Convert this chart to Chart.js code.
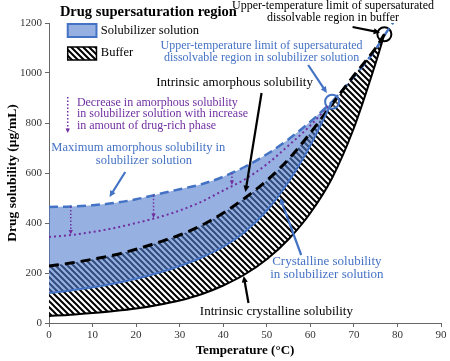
<!DOCTYPE html>
<html lang="en">
<head>
<meta charset="UTF-8">
<title>Drug supersaturation region</title>
<script src="https://cdn.jsdelivr.net/npm/chart.js"></script>
<style>
  html, body { margin: 0; padding: 0; background: #fff; }
  #wrap { width: 450px; height: 361px; }
</style>
</head>
<body>
<div id="wrap"><canvas id="chart" width="450" height="361"></canvas></div>
<script>
// temperatures (°C)
const tempsSolub = [0, 5, 10, 15, 20, 25, 30, 35, 40, 45, 50, 55, 60, 65];
const tempsBuffer = [0, 5, 10, 15, 20, 25, 30, 35, 40, 45, 50, 55, 60, 65, 70, 75, 77];
const tempsExtension = [65, 70, 75, 77, 79.5];

// solubility (µg/mL)
const maxAmorphSolub = [464, 466, 471, 480, 495, 515, 535, 555, 585, 625, 675, 735, 805, 885];
const reducedAmorphSolub = [344, 352, 364, 380, 400, 422, 450, 485, 530, 575, 635, 710, 790, 885];
const crystSolub = [120, 130, 143, 158, 177, 200, 228, 262, 305, 365, 450, 565, 710, 885];
const intrinsicAmorph = [228, 240, 255, 272, 295, 322, 352, 390, 440, 500, 570, 655, 760, 875, 990, 1100, 1155];
const intrinsicCryst = [28, 33, 40, 48, 58, 72, 90, 115, 150, 195, 255, 335, 440, 580, 780, 1040, 1155];
const extensionAmorph = [885, 985, 1095, 1150, 1215];

// upper-temperature limits
const limitTemps = [65, 77];
const limitValues = [885, 1155];

// purple "decrease" arrows
const dropTemps = [5, 24, 42];
const dropFrom = [466, 511, 600];
const dropTo = [354, 420, 552];

const xTicks = [0, 10, 20, 30, 40, 50, 60, 70, 80, 90];
const yTicks = [0, 200, 400, 600, 800, 1000, 1200];

const serif = '"Liberation Serif", "Times New Roman", serif';
const BLUE = '#4472c4';
const PURPLE = '#7030a0';
const BLUE_FILL = 'rgba(80,125,205,0.6)';

function pts(xs, ys) {
    return xs.map((t, i) => ({ x: t, y: ys[i] }));
}

function makeHatch() {
    const s = 6;
    const c = document.createElement('canvas');
    c.width = s; c.height = s;
    const g = c.getContext('2d');
    g.fillStyle = '#fff';
    g.fillRect(0, 0, s, s);
    g.strokeStyle = '#000';
    g.lineWidth = 2;
    g.beginPath();
    g.moveTo(-1, -1); g.lineTo(s + 1, s + 1);
    g.moveTo(-1, s - 1); g.lineTo(1, s + 1);
    g.moveTo(s - 1, -1); g.lineTo(s + 1, 1);
    g.stroke();
    return g.createPattern(c, 'repeat');
}
const hatch = makeHatch();

// text labels: [text, temp, value, colour, size, align, bold]
const labels = [
    ['Drug supersaturation region', 2.5, 1244, '#000', 14.5, 'left', true],
    ['Solubilizer solution', 11.9, 1168, '#000', 12.5, 'left'],
    ['Buffer', 11.9, 1080, '#000', 12.5, 'left'],
    ['Upper-temperature limit of supersaturated', 65.2, 1268, '#000', 12, 'center'],
    ['dissolvable region in buffer', 65.2, 1220, '#000', 12, 'center'],
    ['Upper-temperature limit of supersaturated', 48.8, 1108, BLUE, 12, 'center'],
    ['dissolvable region in solubilizer solution', 48.8, 1060, BLUE, 12, 'center'],
    ['Intrinsic amorphous solubility', 42.6, 960, '#000', 13, 'center'],
    ['Decrease in amorphous solubility', 6.4, 880, PURPLE, 12, 'left'],
    ['in solubilizer solution with increase', 6.4, 836, PURPLE, 12, 'left'],
    ['in amount of drug-rich phase', 6.4, 788, PURPLE, 12, 'left'],
    ['Maximum amorphous solubility in', 20.5, 700, BLUE, 12.5, 'center'],
    ['solubilizer solution', 21.8, 648, BLUE, 12.5, 'center'],
    ['Crystalline solubility', 63.8, 244, BLUE, 13, 'center'],
    ['in solubilizer solution', 63.8, 192, BLUE, 13, 'center'],
    ['Intrinsic crystalline solubility', 52.2, 44, '#000', 13, 'center']
];

// pointer arrows: [t1, v1, t2, v2, colour]
const pointers = [
    [69.7, 1184, 76.0, 1162, '#000'],
    [59.5, 1032, 63.8, 920, BLUE],
    [48.8, 920, 45.1, 524, '#000'],
    [17.5, 604, 13.9, 504, BLUE],
    [57.9, 272, 53.1, 500, BLUE],
    [45.8, 80, 44.7, 188, '#000']
];

function arrow(ctx, x1, y1, x2, y2, color, width, dash, head) {
    ctx.save();
    ctx.strokeStyle = color;
    ctx.fillStyle = color;
    ctx.lineWidth = width;
    ctx.setLineDash(dash);
    const a = Math.atan2(y2 - y1, x2 - x1);
    ctx.beginPath();
    ctx.moveTo(x1, y1);
    ctx.lineTo(x2 - Math.cos(a) * head * 0.8, y2 - Math.sin(a) * head * 0.8);
    ctx.stroke();
    ctx.setLineDash([]);
    ctx.beginPath();
    ctx.moveTo(x2, y2);
    ctx.lineTo(x2 - head * Math.cos(a - 0.45), y2 - head * Math.sin(a - 0.45));
    ctx.lineTo(x2 - head * Math.cos(a + 0.45), y2 - head * Math.sin(a + 0.45));
    ctx.closePath();
    ctx.fill();
    ctx.restore();
}

const notes = {
    id: 'notes',
    afterDraw(chart) {
        const { ctx, scales: { x, y } } = chart;
        const X = v => x.getPixelForValue(v);
        const Y = v => y.getPixelForValue(v);

        // legend swatches
        ctx.save();
        ctx.fillStyle = BLUE_FILL;
        ctx.fillRect(X(4.3), Y(1196), X(10.9) - X(4.3), Y(1144) - Y(1196));
        ctx.strokeStyle = BLUE;
        ctx.lineWidth = 2;
        ctx.strokeRect(X(4.3), Y(1196), X(10.9) - X(4.3), Y(1144) - Y(1196));
        ctx.fillStyle = hatch;
        ctx.fillRect(X(4.3), Y(1104), X(10.9) - X(4.3), Y(1052) - Y(1104));
        ctx.strokeStyle = '#000';
        ctx.lineWidth = 1.5;
        ctx.strokeRect(X(4.3), Y(1104), X(10.9) - X(4.3), Y(1052) - Y(1104));
        ctx.restore();

        // purple drop arrows
        dropTemps.forEach((t, i) => {
            arrow(ctx, X(t), Y(dropFrom[i]), X(t), Y(dropTo[i]), PURPLE, 1.5, [1.5, 2], 5);
        });
        arrow(ctx, X(4.3), Y(904), X(4.3), Y(760), PURPLE, 1.5, [1.5, 2], 5);

        pointers.forEach(p => {
            arrow(ctx, X(p[0]), Y(p[1]), X(p[2]), Y(p[3]), p[4], 2.2, [], 7);
        });

        ctx.save();
        ctx.textBaseline = 'middle';
        labels.forEach(l => {
            ctx.font = (l[6] ? 'bold ' : '') + l[4] + 'px ' + serif;
            ctx.fillStyle = l[3];
            ctx.textAlign = l[5];
            ctx.fillText(l[0], X(l[1]), Y(l[2]));
        });
        ctx.restore();
    }
};

const ctx = document.getElementById('chart').getContext('2d');
new Chart(ctx, {
    type: 'line',
    data: {
        datasets: [
            {
                data: pts(tempsSolub, maxAmorphSolub),
                borderColor: BLUE, borderWidth: 2.5, borderDash: [9, 5],
                fill: 1, backgroundColor: BLUE_FILL
            },
            {
                data: pts(tempsSolub, crystSolub),
                borderColor: BLUE, borderWidth: 2, fill: false
            },
            {
                data: pts(tempsSolub, reducedAmorphSolub),
                borderColor: PURPLE, borderWidth: 2, borderDash: [2, 3], fill: false
            },
            {
                data: pts(tempsBuffer, intrinsicAmorph),
                borderColor: '#000', borderWidth: 3, borderDash: [10, 6],
                fill: 4, backgroundColor: hatch
            },
            {
                data: pts(tempsBuffer, intrinsicCryst),
                borderColor: '#000', borderWidth: 2, fill: false
            },
            {
                data: pts(tempsExtension, extensionAmorph),
                borderColor: BLUE, borderWidth: 2.5, borderDash: [9, 5], fill: false
            },
            {
                data: pts(limitTemps, limitValues),
                showLine: false, pointRadius: 7, pointBorderWidth: 2,
                pointBorderColor: [BLUE, '#000'],
                pointBackgroundColor: 'rgba(255,255,255,0.35)'
            }
        ]
    },
    options: {
        responsive: false,
        animation: false,
        layout: { padding: { left: 0, right: 6, top: 23, bottom: 0 } },
        elements: {
            point: { radius: 0 },
            line: { cubicInterpolationMode: 'monotone' }
        },
        plugins: {
            legend: { display: false },
            tooltip: { enabled: false },
            filler: { drawTime: 'beforeDatasetsDraw' }
        },
        scales: {
            x: {
                type: 'linear', min: 0, max: 90,
                afterBuildTicks: s => { s.ticks = xTicks.map(v => ({ value: v })); },
                ticks: { color: '#333', padding: 2, font: { family: serif, size: 11 }, callback: v => String(v) },
                grid: { drawOnChartArea: false, tickLength: 4, color: '#666' },
                border: { color: '#666' },
                title: {
                    display: true, text: 'Temperature (°C)', color: '#000',
                    font: { family: serif, size: 13, weight: 'bold' },
                    padding: { top: 0, bottom: 3 }
                },
                afterFit: s => { s.height = 38; s.paddingLeft = 0; s.paddingRight = 0; }
            },
            y: {
                min: 0, max: 1200,
                afterBuildTicks: s => { s.ticks = yTicks.map(v => ({ value: v })); },
                ticks: { color: '#333', padding: 3, font: { family: serif, size: 11 }, callback: v => String(v) },
                grid: { drawOnChartArea: false, tickLength: 4, color: '#666' },
                border: { color: '#666' },
                title: {
                    display: true, text: 'Drug solubility (μg/mL)', color: '#000',
                    font: { family: serif, size: 13.5, weight: 'bold' },
                    padding: { top: 4, bottom: 0 }
                },
                afterFit: s => { s.width = 49; s.paddingTop = 0; s.paddingBottom = 0; }
            }
        }
    },
    plugins: [notes]
});
</script>
</body>
</html>
